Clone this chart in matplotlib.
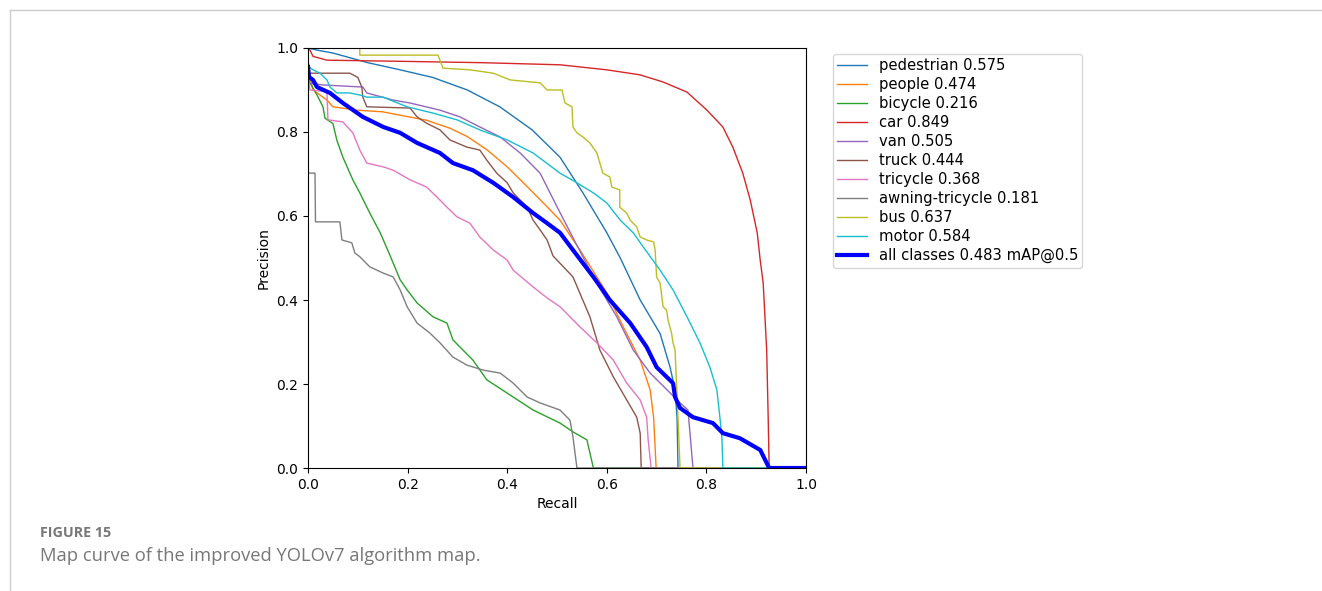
import matplotlib.pyplot as plt

# recall / precision points
pedestrian_r = [0.0, 0.018, 0.05, 0.12, 0.185, 0.25, 0.32, 0.385, 0.45, 0.506, 0.552, 0.6, 0.627, 0.667,
                0.707, 0.727, 0.737, 0.741, 0.743, 1.0]
pedestrian_p = [1.0, 0.995, 0.988, 0.965, 0.948, 0.93, 0.9, 0.86, 0.805, 0.74, 0.655, 0.56, 0.5, 0.4,
                0.32, 0.24, 0.186, 0.12, 0.0, 0.0]

people_r = [0.0, 0.01, 0.038, 0.05, 0.098, 0.15, 0.185, 0.238, 0.285, 0.32, 0.36, 0.4, 0.44, 0.48, 0.506,
            0.546, 0.6, 0.633, 0.667, 0.687, 0.694, 0.699, 1.0]
people_p = [0.95, 0.9, 0.876, 0.86, 0.852, 0.848, 0.84, 0.828, 0.809, 0.789, 0.757, 0.717, 0.67, 0.622, 0.59,
            0.519, 0.417, 0.336, 0.257, 0.186, 0.12, 0.0, 0.0]

bicycle_r = [0.0, 0.004, 0.018, 0.03, 0.034, 0.05, 0.058, 0.07, 0.09, 0.104, 0.124, 0.145, 0.165, 0.185,
             0.199, 0.219, 0.251, 0.279, 0.291, 0.331, 0.359, 0.412, 0.452, 0.506, 0.532, 0.56, 0.566,
             0.573, 1.0]
bicycle_p = [0.93, 0.917, 0.888, 0.86, 0.833, 0.82, 0.78, 0.74, 0.686, 0.655, 0.607, 0.56, 0.505, 0.448,
             0.424, 0.393, 0.36, 0.345, 0.305, 0.257, 0.21, 0.169, 0.138, 0.107, 0.086, 0.067, 0.036,
             0.0, 0.0]

car_r = [0.0, 0.004, 0.01, 0.038, 0.2, 0.35, 0.506, 0.6, 0.667, 0.713, 0.761, 0.801, 0.833, 0.853, 0.873,
         0.888, 0.902, 0.908, 0.914, 0.921, 0.924, 0.926, 1.0]
car_p = [1.0, 0.995, 0.98, 0.971, 0.968, 0.965, 0.96, 0.948, 0.936, 0.919, 0.895, 0.852, 0.812, 0.764,
         0.702, 0.638, 0.56, 0.495, 0.44, 0.281, 0.12, 0.0, 0.0]

van_r = [0.0, 0.03, 0.11, 0.118, 0.171, 0.205, 0.265, 0.305, 0.345, 0.386, 0.426, 0.466, 0.5, 0.54, 0.58,
         0.62, 0.653, 0.687, 0.721, 0.747, 0.763, 0.767, 0.773, 1.0]
van_p = [0.917, 0.912, 0.907, 0.893, 0.876, 0.869, 0.852, 0.836, 0.812, 0.788, 0.75, 0.702, 0.622, 0.53,
         0.44, 0.36, 0.281, 0.226, 0.186, 0.155, 0.138, 0.083, 0.0, 0.0]

truck_r = [0.0, 0.084, 0.1, 0.108, 0.11, 0.118, 0.205, 0.219, 0.238, 0.265, 0.285, 0.319, 0.345, 0.359,
           0.379, 0.4, 0.412, 0.426, 0.44, 0.452, 0.466, 0.48, 0.492, 0.532, 0.566, 0.586, 0.613, 0.64,
           0.66, 0.667, 0.669, 1.0]
truck_p = [0.94, 0.94, 0.93, 0.907, 0.883, 0.86, 0.857, 0.836, 0.821, 0.805, 0.781, 0.764, 0.757, 0.733,
           0.702, 0.679, 0.655, 0.638, 0.621, 0.59, 0.567, 0.543, 0.505, 0.455, 0.36, 0.281, 0.217, 0.162,
           0.121, 0.083, 0.0, 0.0]

tricycle_r = [0.0, 0.004, 0.038, 0.04, 0.07, 0.09, 0.104, 0.118, 0.151, 0.171, 0.205, 0.238, 0.259, 0.279,
              0.299, 0.325, 0.345, 0.372, 0.4, 0.412, 0.452, 0.48, 0.506, 0.546, 0.58, 0.613, 0.64, 0.667,
              0.68, 0.683, 0.689, 1.0]
tricycle_p = [0.93, 0.9, 0.896, 0.829, 0.824, 0.798, 0.757, 0.726, 0.717, 0.709, 0.686, 0.669, 0.645, 0.621,
              0.598, 0.583, 0.55, 0.519, 0.495, 0.471, 0.431, 0.405, 0.384, 0.336, 0.298, 0.257, 0.202,
              0.162, 0.121, 0.067, 0.0, 0.0]

awning_r = [0.0, 0.014, 0.015, 0.064, 0.068, 0.088, 0.094, 0.104, 0.124, 0.151, 0.171, 0.185, 0.199, 0.219,
            0.245, 0.265, 0.291, 0.319, 0.352, 0.386, 0.412, 0.44, 0.466, 0.506, 0.526, 0.532, 0.54, 1.0]
awning_p = [0.702, 0.702, 0.586, 0.586, 0.543, 0.536, 0.512, 0.503, 0.479, 0.464, 0.455, 0.424, 0.384, 0.345,
            0.321, 0.298, 0.264, 0.245, 0.233, 0.226, 0.202, 0.169, 0.155, 0.138, 0.114, 0.074, 0.0, 0.0]

bus_r = [0.0, 0.104, 0.104, 0.261, 0.271, 0.325, 0.372, 0.406, 0.466, 0.48, 0.51, 0.516, 0.53, 0.532,
         0.54, 0.552, 0.566, 0.58, 0.586, 0.592, 0.606, 0.61, 0.626, 0.626, 0.64, 0.647, 0.66, 0.667, 0.68,
         0.694, 0.697, 0.7, 0.707, 0.713, 0.72, 0.723, 0.73, 0.733, 0.737, 0.74, 0.743, 0.747, 1.0]
bus_p = [1.0, 1.0, 0.983, 0.983, 0.952, 0.948, 0.94, 0.924, 0.917, 0.9, 0.9, 0.869, 0.86, 0.812,
         0.798, 0.788, 0.774, 0.75, 0.726, 0.702, 0.693, 0.669, 0.662, 0.621, 0.607, 0.59, 0.574, 0.55,
         0.543, 0.538, 0.519, 0.455, 0.44, 0.384, 0.376, 0.352, 0.321, 0.298, 0.281, 0.2, 0.12, 0.0, 0.0]

motor_r = [0.0, 0.002, 0.01, 0.024, 0.038, 0.044, 0.058, 0.084, 0.104, 0.118, 0.151, 0.165, 0.199, 0.251,
           0.299, 0.345, 0.4, 0.452, 0.506, 0.54, 0.573, 0.6, 0.627, 0.653, 0.68, 0.707, 0.733, 0.761,
           0.787, 0.807, 0.821, 0.827, 0.831, 0.833, 1.0]
motor_p = [0.971, 0.955, 0.948, 0.94, 0.924, 0.907, 0.893, 0.893, 0.888, 0.883, 0.883, 0.876, 0.86, 0.845,
           0.829, 0.805, 0.781, 0.75, 0.702, 0.679, 0.655, 0.631, 0.59, 0.56, 0.515, 0.471, 0.424, 0.36,
           0.298, 0.24, 0.186, 0.121, 0.074, 0.0, 0.0]

all_r = [0.0, 0.002, 0.01, 0.018, 0.044, 0.07, 0.11, 0.151, 0.185, 0.219, 0.265, 0.291, 0.331, 0.372,
         0.412, 0.452, 0.48, 0.506, 0.532, 0.573, 0.606, 0.647, 0.68, 0.7, 0.733, 0.737, 0.747, 0.773,
         0.813, 0.833, 0.867, 0.908, 0.921, 0.926, 1.0]
all_p = [0.955, 0.931, 0.924, 0.907, 0.893, 0.869, 0.836, 0.812, 0.798, 0.774, 0.75, 0.726, 0.709, 0.679,
         0.645, 0.607, 0.583, 0.56, 0.519, 0.455, 0.4, 0.345, 0.288, 0.24, 0.202, 0.169, 0.143, 0.121,
         0.107, 0.083, 0.071, 0.043, 0.012, 0.0, 0.0]

names = ["pedestrian", "people", "bicycle", "car", "van", "truck", "tricycle", "awning-tricycle", "bus", "motor"]
ap = [0.575, 0.474, 0.216, 0.849, 0.505, 0.444, 0.368, 0.181, 0.637, 0.584]
curves = [(pedestrian_r, pedestrian_p), (people_r, people_p), (bicycle_r, bicycle_p), (car_r, car_p),
          (van_r, van_p), (truck_r, truck_p), (tricycle_r, tricycle_p), (awning_r, awning_p),
          (bus_r, bus_p), (motor_r, motor_p)]
map50 = 0.483

fig = plt.figure(figsize=(13.22, 5.91), dpi=100)
ax = fig.add_axes([0.233, 0.2081, 0.3767, 0.7107])

for i, (r, p) in enumerate(curves):
    ax.plot(r, p, linewidth=1, color="C%d" % i, label="%s %.3f" % (names[i], ap[i]))
ax.plot(all_r, all_p, linewidth=3, color="blue", label="all classes %.3f mAP@0.5" % map50)

ax.set_xlim(0, 1)
ax.set_ylim(0, 1)
ax.set_xlabel("Recall", fontsize=10)
ax.set_ylabel("Precision", fontsize=10)
ax.tick_params(labelsize=10)
ax.legend(bbox_to_anchor=(833 / 1322, 1 - 54 / 591), loc="upper left", bbox_transform=fig.transFigure,
          borderaxespad=0, fontsize=10.6, handlelength=2.0, borderpad=0.3, labelspacing=0.27)

# page frame and caption
fig.add_artist(plt.Line2D([0.0076, 1.0], [0.983, 0.983], color="#cccccc", linewidth=1))
fig.add_artist(plt.Line2D([0.0076, 0.0076], [0.0, 0.983], color="#cccccc", linewidth=1))
fig.text(40 / 1322, 1 - 533 / 591, "FIGURE 15", fontsize=10.3, color="#777777", fontweight="bold",
         family="Open Sans", va="center")
fig.text(40 / 1322, 1 - 556 / 591, "Map curve of the improved YOLOv7 algorithm map.", fontsize=13.2,
         color="#777777", family="Open Sans", va="center")

fig.savefig("out.png", dpi=100)
